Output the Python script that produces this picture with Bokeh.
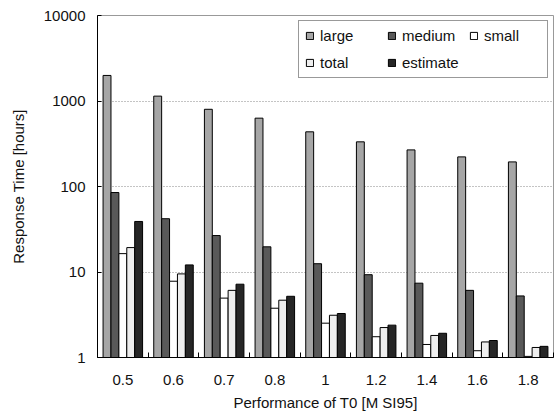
from bokeh.plotting import figure
from bokeh.models import ColumnDataSource, FixedTicker, Legend, LegendItem
from bokeh.transform import dodge
from bokeh.embed import file_html
from bokeh.resources import INLINE

categories = ["0.5", "0.6", "0.7", "0.8", "1", "1.2", "1.4", "1.6", "1.8"]
large = [1990, 1140, 800, 630, 436, 333, 268, 222, 194]
medium = [85, 42, 26.7, 19.7, 12.5, 9.3, 7.4, 6.1, 5.25]
small = [16.4, 7.8, 4.95, 3.77, 2.52, 1.75, 1.42, 1.2, 1.03]
total = [19.3, 9.5, 6.1, 4.68, 3.12, 2.24, 1.81, 1.52, 1.31]
estimate = [39, 12.1, 7.2, 5.2, 3.27, 2.39, 1.92, 1.58, 1.35]
y_ticks = [1, 10, 100, 1000, 10000]

series_names = ["large", "medium", "small", "total", "estimate"]
series_vals = [large, medium, small, total, estimate]
colors = ["#a6a6a6", "#595959", "#ffffff", "#eeeeee", "#262626"]

idx = list(range(len(categories)))
data = {"x": idx, "bottom": [1] * len(idx)}
for n, v in zip(series_names, series_vals):
    data[n] = v
src = ColumnDataSource(data)

FONT = "Liberation Sans"
TXT = "#111111"

p = figure(width=558, height=414, output_backend="svg", toolbar_location=None,
           x_range=(-0.5, len(categories) - 0.5), y_range=(1, 10000),
           y_axis_type="log",
           min_border_left=97, min_border_right=5, min_border_top=15, min_border_bottom=57)

bw = 0.156
items = []
for k, (n, c) in enumerate(zip(series_names, colors)):
    r = p.vbar(x=dodge("x", (k - 2) * bw, range=p.x_range), top=n, bottom="bottom",
               width=bw, source=src, fill_color=c, line_color="black", line_width=1)
    items.append(LegendItem(label=n, renderers=[r]))

legend = Legend(items=items, orientation="horizontal", ncols=3,
                location="top_right", glyph_width=9, glyph_height=9,
                label_standoff=6, label_width=57, label_height=12,
                label_text_font=FONT, label_text_font_size="15px",
                label_text_color=TXT, spacing=10, padding=6, margin=5,
                border_line_color="#333333", border_line_width=1,
                background_fill_color="white", background_fill_alpha=1)
p.add_layout(legend)

# x axis
p.xaxis.ticker = FixedTicker(ticks=idx, minor_ticks=[i - 0.5 for i in range(len(categories) + 1)])
p.xaxis.major_label_overrides = {i: c for i, c in enumerate(categories)}
p.xaxis.major_tick_in = 0
p.xaxis.major_tick_out = 0
p.xaxis.minor_tick_in = 5
p.xaxis.minor_tick_out = 0
p.xaxis.minor_tick_line_color = "black"
p.xaxis.axis_label = "Performance of T0 [M SI95]"

# y axis
p.yaxis.ticker = FixedTicker(ticks=y_ticks)
p.yaxis.major_label_overrides = {t: str(t) for t in y_ticks}
p.yaxis.major_tick_in = 4
p.yaxis.major_tick_out = 0
p.yaxis.minor_tick_line_color = None
p.yaxis.axis_label = "Response Time [hours]"

for ax in (p.xaxis[0], p.yaxis[0]):
    ax.axis_line_color = "black"
    ax.major_tick_line_color = "black"
    ax.axis_label_text_font = FONT
    ax.axis_label_text_font_size = "15px"
    ax.axis_label_text_font_style = "normal"
    ax.axis_label_text_color = TXT
    ax.major_label_text_font = FONT
    ax.major_label_text_font_size = "15px"
    ax.major_label_text_color = TXT

p.xaxis.major_label_standoff = 17
p.xaxis.axis_label_standoff = 6
p.yaxis.major_label_standoff = 12
p.yaxis.axis_label_standoff = 14

p.xgrid.grid_line_color = None
p.ygrid.ticker = FixedTicker(ticks=y_ticks)
p.ygrid.grid_line_color = "#888888"
p.ygrid.grid_line_dash = "1 2"
p.ygrid.grid_line_width = 1

p.outline_line_color = "#999999"
p.background_fill_color = "white"
p.border_fill_color = "white"

open("out.html", "w").write(file_html(p, INLINE))
